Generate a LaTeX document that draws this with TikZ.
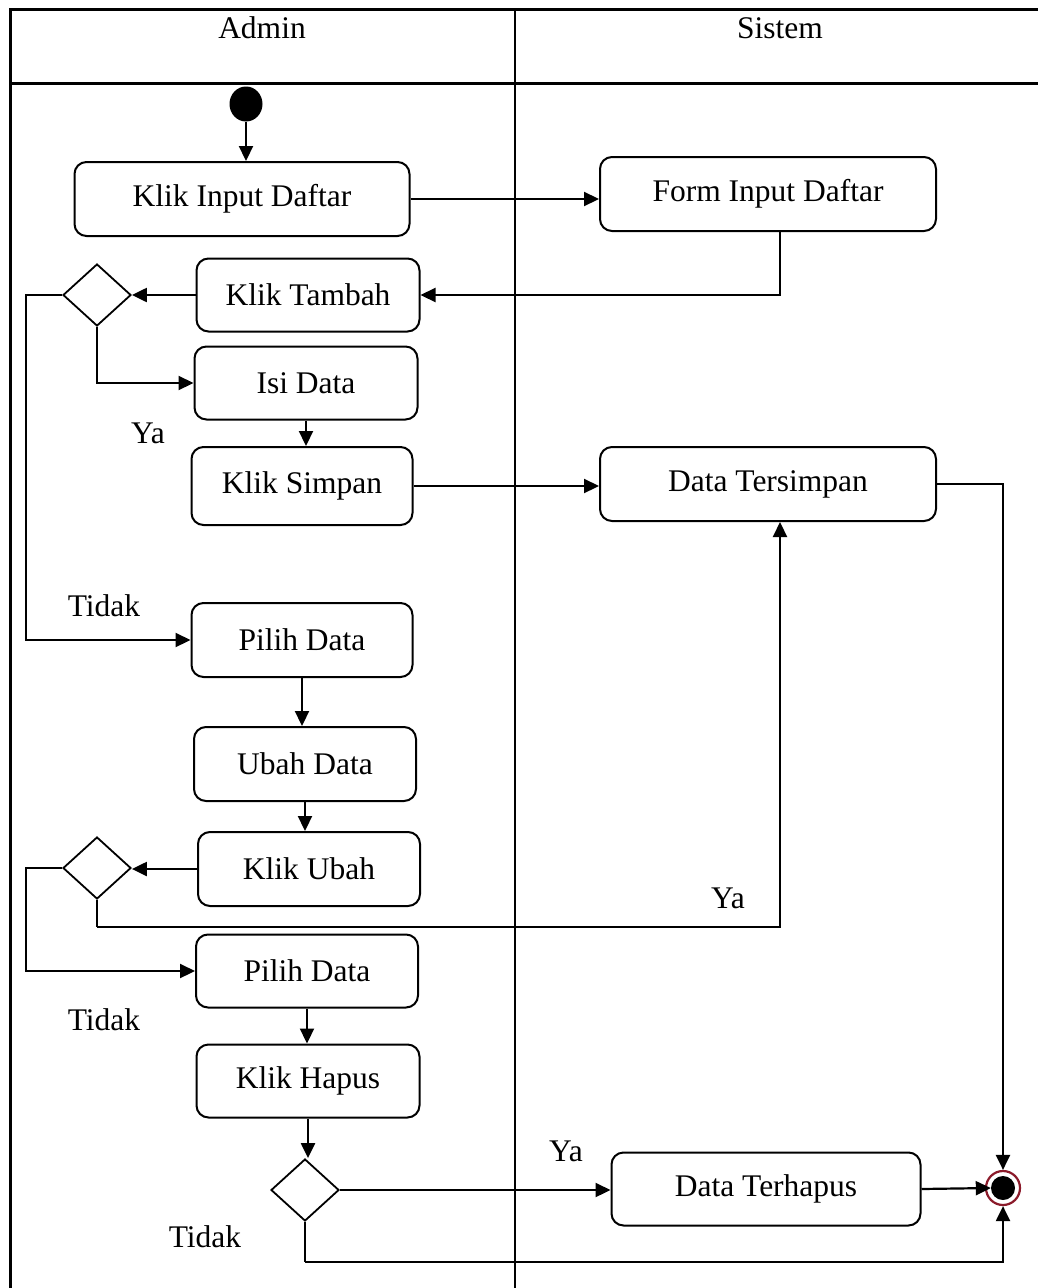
\documentclass[tikz,border=0pt]{standalone}
\usepackage{fontspec}
\setmainfont{Liberation Serif}
\usetikzlibrary{shapes.geometric,arrows.meta}
\definecolor{endred}{HTML}{8B1A2A}
\begin{document}
\begin{tikzpicture}[x=1pt,y=-1pt,
  act/.style={draw, line width=2pt, rounded corners=12pt, inner sep=0pt, font=\fontsize{31.5}{36}\selectfont},
  dec/.style={draw, diamond, line width=1.8pt, inner sep=0pt, minimum width=68pt, minimum height=62pt},
  flow/.style={line width=2.2pt, -{Triangle[length=15pt,width=14pt]}},
  lbl/.style={font=\fontsize{31.5}{36}\selectfont, inner sep=0pt},
  lane/.style={line width=3pt}]
\useasboundingbox (0,0) rectangle (1038,1288);
% swimlane frame
\draw[lane] (1038,9) -- (10,9) -- (10,1288);
\draw[lane] (10,83) -- (1038,83);
\draw[line width=2.4pt] (515,9) -- (515,1288);
\node[lbl] (hadmin) at (262,28) {Admin};
\node[lbl] (hsis) at (780,28) {Sistem};
% nodes
\node[ellipse, fill=black, minimum width=33pt, minimum height=35pt, inner sep=0pt] (start) at (246,104) {};
\node[act, minimum width=335pt, minimum height=74pt] (kid) at (242,199) {Klik Input Daftar};
\node[act, minimum width=336pt, minimum height=74pt] (fid) at (768,194) {Form Input Daftar};
\node[act, minimum width=223pt, minimum height=73pt] (kt) at (308,295) {Klik Tambah};
\node[dec] (d1) at (97,295) {};
\node[act, minimum width=223pt, minimum height=73pt] (isi) at (306,383) {Isi Data};
\node[act, minimum width=221pt, minimum height=78pt] (ks) at (302,486) {Klik Simpan};
\node[act, minimum width=336pt, minimum height=74pt] (dts) at (768,484) {Data Tersimpan};
\node[act, minimum width=221pt, minimum height=74pt] (pd1) at (302,640) {Pilih Data};
\node[act, minimum width=222pt, minimum height=74pt] (ud) at (305,764) {Ubah Data};
\node[act, minimum width=222pt, minimum height=74pt] (ku) at (309,869) {Klik Ubah};
\node[dec] (d2) at (97,868) {};
\node[act, minimum width=222pt, minimum height=73pt] (pd2) at (307,971) {Pilih Data};
\node[act, minimum width=223pt, minimum height=73pt] (kh) at (308,1081) {Klik Hapus};
\node[dec] (d3) at (305,1190) {};
\node[act, minimum width=309pt, minimum height=73pt] (dth) at (766,1189) {Data Terhapus};
\node[circle, draw=endred, line width=2.2pt, minimum size=34pt, inner sep=0pt] (end) at (1003,1188) {};
\node[circle, fill=black, minimum size=24pt, inner sep=0pt] (endin) at (1003,1188) {};
% helper coordinates
\coordinate (c2) at (97,927);
\coordinate (c3) at (305,1262);
% connectors
\draw[flow] (start.south) -- (start.south |- kid.north);
\draw[flow] (kid.east) -- (kid.east -| fid.west);
\draw[flow] ([xshift=12pt]fid.south) |- (kt.east);
\draw[flow] (kt.west) -- (d1.east);
\draw[flow] (d1.south) |- (isi.west);
\draw[flow] (d1.west) -- ++(-36,0) |- (pd1.west);
\draw[flow] (isi.south) -- (isi.south |- ks.north);
\draw[flow] (ks.east) -- (ks.east -| dts.west);
\draw[flow] (dts.east) -| (end.north);
\draw[flow] (pd1.south) -- (pd1.south |- ud.north);
\draw[flow] (ud.south) -- (ud.south |- ku.north);
\draw[flow] (ku.west) -- (ku.west -| d2.east);
\draw[line width=2.2pt] (d2.south) -- (c2);
\draw[flow] (c2) -| ([xshift=12pt]dts.south);
\draw[flow] (d2.west) -- ++(-36,0) |- (pd2.west);
\draw[flow] (pd2.south) -- (pd2.south |- kh.north);
\draw[flow] (kh.south) -- (kh.south |- d3.north);
\draw[flow] (d3.east) -- (d3.east -| dth.west);
\draw[flow] (dth.east) -- (endin.west);
\draw[line width=2.2pt] (d3.south) -- (c3);
\draw[flow] (c3) -| (end.south);
% labels
\node[lbl] (ya1) at (148,433) {Ya};
\node[lbl] (td1) at (104,606) {Tidak};
\node[lbl] (ya2) at (728,898) {Ya};
\node[lbl] (td2) at (104,1020) {Tidak};
\node[lbl] (ya3) at (566,1151) {Ya};
\node[lbl] (td3) at (205,1237) {Tidak};
\end{tikzpicture}
\end{document}
